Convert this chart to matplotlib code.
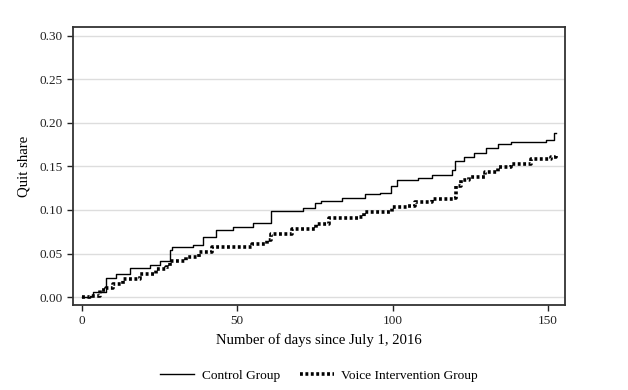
import matplotlib
matplotlib.use("Agg")
import matplotlib.pyplot as plt

# step points (day, quit share)
control_days = [0, 2.6, 3.6, 7.9, 11, 15.4, 21.8, 25, 28.2, 29, 35.6, 38.9, 43, 48.5,
                55, 60.8, 61, 71, 75, 77, 83.8, 91, 96, 99.3, 101.3, 108, 112.6,
                119, 119.9, 122.8, 126, 130, 134, 138, 149.4, 152, 152.5]
control_share = [0, 0.001, 0.006, 0.022, 0.027, 0.033, 0.037, 0.042, 0.054, 0.058, 0.060,
                 0.069, 0.077, 0.080, 0.085, 0.088, 0.099, 0.102, 0.108, 0.110, 0.114,
                 0.118, 0.119, 0.128, 0.134, 0.137, 0.140, 0.146, 0.156, 0.161, 0.165,
                 0.171, 0.176, 0.178, 0.180, 0.188, 0.188]

voice_days = [0, 2.6, 5.8, 7.9, 10, 13.3, 18.6, 23.9, 27, 28.5, 33.5, 37.8, 42, 50.6,
              54.8, 59.7, 61, 67.7, 75.2, 79.5, 89, 90.7, 96, 99.8, 105, 107.2, 112.6,
              119.8, 120.3, 122, 124.4, 129.7, 134, 138, 144.6, 151, 152.5]
voice_share = [0, 0.001, 0.008, 0.011, 0.015, 0.021, 0.027, 0.032, 0.034, 0.042, 0.046,
               0.052, 0.057, 0.058, 0.061, 0.065, 0.073, 0.078, 0.084, 0.091, 0.092,
               0.0975, 0.098, 0.103, 0.105, 0.109, 0.113, 0.114, 0.127, 0.134, 0.138,
               0.143, 0.149, 0.153, 0.158, 0.161, 0.163]

plt.rcParams['font.family'] = ['Liberation Serif', 'DejaVu Serif']

fig = plt.figure(figsize=(6.28, 3.9), dpi=100)
ax = fig.add_axes([0.116, 0.218, 0.784, 0.713])

ax.plot(control_days, control_share, drawstyle='steps-post', color='black',
        linewidth=1.0, label='Control Group')
ax.plot(voice_days, voice_share, drawstyle='steps-post', color='black',
        linewidth=2.6, linestyle=(0, (0.8, 0.7)), label='Voice Intervention Group')

ax.set_xlim(-2.9, 155.5)
ax.set_ylim(-0.009, 0.31)
ax.set_xticks([0, 50, 100, 150])
ax.set_yticks([0, 0.05, 0.10, 0.15, 0.20, 0.25, 0.30])
ax.set_yticklabels(['0.00', '0.05', '0.10', '0.15', '0.20', '0.25', '0.30'])
ax.yaxis.grid(True, color='#dddddd', linewidth=1)
ax.set_axisbelow(True)
for s in ax.spines.values():
    s.set_linewidth(1.3)
    s.set_color('#333333')
ax.tick_params(direction='out', length=4, width=1, labelsize=9.5, colors='#222222')

ax.set_xlabel("Number of days since July 1, 2016", fontsize=10.6, labelpad=4)
ax.set_ylabel("Quit share", fontsize=10.6, labelpad=6)

ax.legend(loc='upper center', bbox_to_anchor=(0.5, -0.19), ncol=2, frameon=False,
          fontsize=9.6, handlelength=2.55, columnspacing=1.5, handletextpad=0.55)

fig.savefig("out.png", dpi=100, facecolor='white')
